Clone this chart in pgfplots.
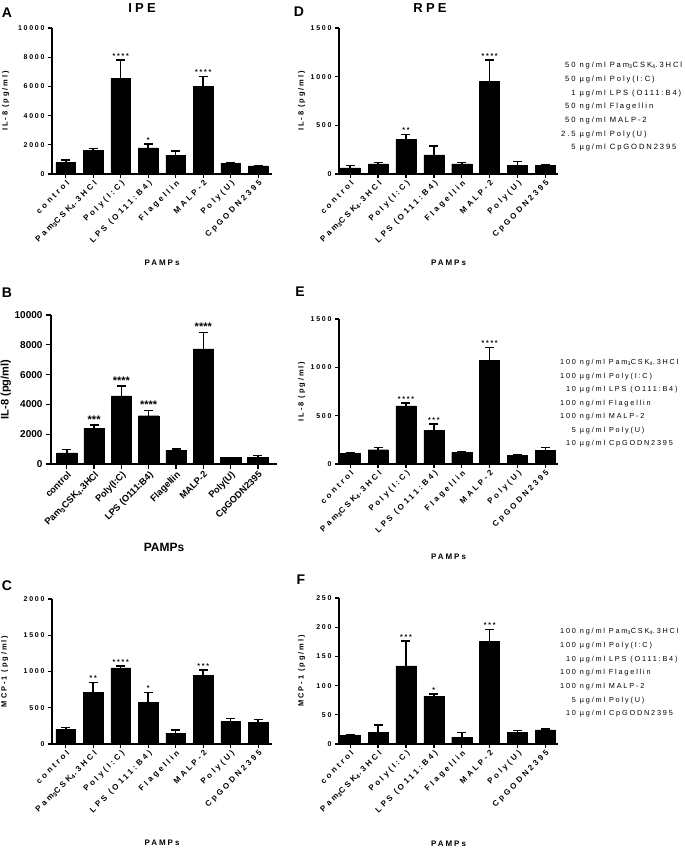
\documentclass[border=0pt]{standalone}
\usepackage{pgfplots}
\pgfplotsset{compat=1.18}
\usepackage{pgfplotstable}
\usepackage{fontspec}
\setmainfont{Liberation Sans}
\newfontfamily\lsfont[LetterSpace=25]{Liberation Sans}
\newfontfamily\lsxfont[LetterSpace=33]{Liberation Sans}

\pgfplotstableread{
x y e
0 780 180
1 1600 160
2 6550 1250
3 1790 270
4 1300 280
5 6000 680
6 730 70
7 550 30
}\dA
\pgfplotstableread{
x y e
0 62 24
1 103 14
2 357 51
3 196 92
4 103 17
5 951 220
6 89 38
7 86 10
}\dD
\pgfplotstableread{
x y e
0 740 220
1 2410 220
2 4575 670
3 3240 350
4 915 85
5 7720 1120
6 424 22
7 470 90
}\dB
\pgfplotstableread{
x y e
0 107 6
1 148 24
2 602 28
3 347 66
4 120 11
5 1070 137
6 86 7
7 138 31
}\dE
\pgfplotstableread{
x y e
0 206 23
1 716 133
2 1050 28
3 573 138
4 151 42
5 950 73
6 312 41
7 303 32
}\dC
\pgfplotstableread{
x y e
0 14.8 1.8
1 20 12.5
2 134 42
3 82 4
4 12 7.4
5 176 20
6 20.5 2.3
7 24 1.7
}\dF

\pgfplotsset{
 panel/.style={
  scale only axis, anchor=south west,
  axis x line*=bottom, axis y line*=left,
  axis line style={line width=1.5pt, -},
  tick align=outside, major tick length=4pt,
  tick style={line width=1.3pt, black},
  xtick={0,...,7},
  xticklabels={control,Pam\textsubscript{3}CSK\textsubscript{4}.3HCl,Poly(I:C),LPS (O111:B4),Flagellin,MALP-2,Poly(U),CpGODN2395},
  xticklabel style={rotate=45, anchor=north east, inner sep=1pt},
  ymin=0, scaled y ticks=false,
  /pgf/number format/1000 sep={},
  /pgf/number format/assume math mode=true,
  clip=false,
  xlabel={PAMPs},
 },
 spaced/.style={
  yticklabel style={font=\lsfont\bfseries\fontsize{7}{8}\selectfont},
  xticklabel style={font=\lsxfont\bfseries\fontsize{8}{9}\selectfont},
  ylabel style={font=\lsfont\bfseries\fontsize{7.5}{9}\selectfont},
  xlabel style={font=\lsfont\bfseries\fontsize{8}{9}\selectfont},
 },
 bars/.style={ybar, fill=black, draw=black, bar width=#1,
  error bars/y dir=plus, error bars/y explicit,
  error bars/error bar style={line width=1.5pt},
  error bars/error mark options={rotate=90, line width=1.5pt, mark size=4.5pt}},
 bars/.default=0.72,
 stars/.style={draw=none, mark=none, nodes near coords, point meta=explicit symbolic,
  nodes near coords style={anchor=south, inner sep=1.5pt, font=#1}},
}

\begin{document}
\begin{tikzpicture}
\useasboundingbox (0pt,0pt) rectangle (685pt,-849pt);

% panel letters and titles
\node[font=\bfseries\fontsize{14}{16}\selectfont] at (7pt,-13pt) {A};
\node[font=\bfseries\fontsize{14}{16}\selectfont] at (299pt,-12pt) {D};
\node[font=\bfseries\fontsize{14}{16}\selectfont] at (7pt,-293pt) {B};
\node[font=\bfseries\fontsize{14}{16}\selectfont] at (300pt,-292pt) {E};
\node[font=\bfseries\fontsize{14}{16}\selectfont] at (7pt,-586pt) {C};
\node[font=\bfseries\fontsize{14}{16}\selectfont] at (301pt,-580pt) {F};
\node[font=\lsfont\bfseries\fontsize{13}{15}\selectfont] at (142pt,-8pt) {IPE};
\node[font=\lsfont\bfseries\fontsize{13}{15}\selectfont] at (430pt,-8pt) {RPE};

% legends
\node[anchor=north west, inner sep=0pt, font=\lsfont\fontsize{7.6}{13.7}\selectfont] at (561pt,-58pt) {%
\begin{tabular}{@{}r@{ }l@{}}
50 & ng/ml Pam\textsubscript{3}CSK\textsubscript{4}.3HCl\\
50 & µg/ml Poly(I:C)\\
1 & µg/ml LPS (O111:B4)\\
50 & ng/ml Flagellin\\
50 & ng/ml MALP-2\\
2.5 & µg/ml Poly(U)\\
5 & µg/ml CpGODN2395
\end{tabular}};
\node[anchor=north west, inner sep=0pt, font=\lsfont\fontsize{7.3}{13.5}\selectfont] at (560pt,-355pt) {%
\begin{tabular}{@{}r@{ }l@{}}
100 & ng/ml Pam\textsubscript{3}CSK\textsubscript{4}.3HCl\\
100 & µg/ml Poly(I:C)\\
10 & µg/ml LPS (O111:B4)\\
100 & ng/ml Flagellin\\
100 & ng/ml MALP-2\\
5 & µg/ml Poly(U)\\
10 & µg/ml CpGODN2395
\end{tabular}};
\node[anchor=north west, inner sep=0pt, font=\lsfont\fontsize{7.3}{13.7}\selectfont] at (560pt,-624pt) {%
\begin{tabular}{@{}r@{ }l@{}}
100 & ng/ml Pam\textsubscript{3}CSK\textsubscript{4}.3HCl\\
100 & µg/ml Poly(I:C)\\
10 & µg/ml LPS (O111:B4)\\
100 & ng/ml Flagellin\\
100 & ng/ml MALP-2\\
5 & µg/ml Poly(U)\\
10 & µg/ml CpGODN2395
\end{tabular}};

% Panel A
\begin{axis}[panel, spaced, at={(52pt,-174pt)}, width=220pt, height=146pt,
  xmin=-0.5, xmax=7.5, ymax=10000, ytick={0,2000,...,10000},
  ylabel={IL-8 (pg/ml)},
  ylabel style={at={(axis description cs:-0.21,0.5)}, anchor=center},
  xlabel style={at={(axis description cs:0.5,-0.61)}, anchor=center}]
\addplot[bars] table[x=x,y=y,y error=e]{\dA};
\addplot[stars={\lsfont\bfseries\fontsize{7}{8}\selectfont}] table[x=x,y=y,meta=s]{
x y s
2 7800 ****
3 2060 *
5 6680 ****
};
\end{axis}

% Panel D
\begin{axis}[panel, spaced, at={(339pt,-174pt)}, width=219pt, height=146pt,
  xmin=-0.4, xmax=7.45, ymax=1500, ytick={0,500,1000,1500},
  ylabel={IL-8 (pg/ml)},
  ylabel style={at={(axis description cs:-0.17,0.5)}, anchor=center},
  xlabel style={at={(axis description cs:0.5,-0.61)}, anchor=center}]
\addplot[bars] table[x=x,y=y,y error=e]{\dD};
\addplot[stars={\lsfont\bfseries\fontsize{7}{8}\selectfont}] table[x=x,y=y,meta=s]{
x y s
2 408 **
5 1171 ****
};
\end{axis}

% Panel B
\begin{axis}[panel, at={(51pt,-464pt)}, width=226pt, height=149pt,
  xmin=-0.58, xmax=7.7, ymax=10000, ytick={0,2000,...,10000},
  yticklabel style={font=\bfseries\fontsize{10}{12}\selectfont},
  xticklabel style={font=\bfseries\fontsize{9.3}{11}\selectfont},
  major tick length=5pt,
  ylabel={IL-8 (pg/ml)},
  ylabel style={font=\bfseries\fontsize{11}{13}\selectfont, at={(axis description cs:-0.2,0.5)}, anchor=center},
  xlabel style={font=\bfseries\fontsize{12}{14}\selectfont, at={(axis description cs:0.5,-0.56)}, anchor=center}]
\addplot[bars=0.75] table[x=x,y=y,y error=e]{\dB};
\addplot[stars={\bfseries\fontsize{11}{12}\selectfont}] table[x=x,y=y,meta=s]{
x y s
1 2630 ***
2 5245 ****
3 3590 ****
5 8840 ****
};
\end{axis}

% Panel E
\begin{axis}[panel, spaced, at={(339pt,-464pt)}, width=219pt, height=145pt,
  xmin=-0.4, xmax=7.45, ymax=1500, ytick={0,500,1000,1500},
  ylabel={IL-8 (pg/ml)},
  ylabel style={at={(axis description cs:-0.17,0.5)}, anchor=center},
  xlabel style={at={(axis description cs:0.5,-0.64)}, anchor=center}]
\addplot[bars] table[x=x,y=y,y error=e]{\dE};
\addplot[stars={\lsfont\bfseries\fontsize{7}{8}\selectfont}] table[x=x,y=y,meta=s]{
x y s
2 630 ****
3 413 ***
5 1207 ****
};
\end{axis}

% Panel C
\begin{axis}[panel, spaced, at={(52pt,-744pt)}, width=220pt, height=145pt,
  xmin=-0.5, xmax=7.5, ymax=2000, ytick={0,500,...,2000},
  ylabel={MCP-1 (pg/ml)},
  ylabel style={at={(axis description cs:-0.215,0.5)}, anchor=center},
  xlabel style={at={(axis description cs:0.5,-0.68)}, anchor=center}]
\addplot[bars] table[x=x,y=y,y error=e]{\dC};
\addplot[stars={\lsfont\bfseries\fontsize{7}{8}\selectfont}] table[x=x,y=y,meta=s]{
x y s
1 849 **
2 1078 ****
3 711 *
5 1023 ***
};
\end{axis}

% Panel F
\begin{axis}[panel, spaced, at={(339pt,-744pt)}, width=219pt, height=146pt,
  xmin=-0.4, xmax=7.45, ymax=250, ytick={0,50,...,250},
  ylabel={MCP-1 (pg/ml)},
  ylabel style={at={(axis description cs:-0.17,0.5)}, anchor=center},
  xlabel style={at={(axis description cs:0.5,-0.68)}, anchor=center}]
\addplot[bars] table[x=x,y=y,y error=e]{\dF};
\addplot[stars={\lsfont\bfseries\fontsize{7}{8}\selectfont}] table[x=x,y=y,meta=s]{
x y s
2 176 ***
3 86 *
5 196 ***
};
\end{axis}
\end{tikzpicture}
\end{document}
